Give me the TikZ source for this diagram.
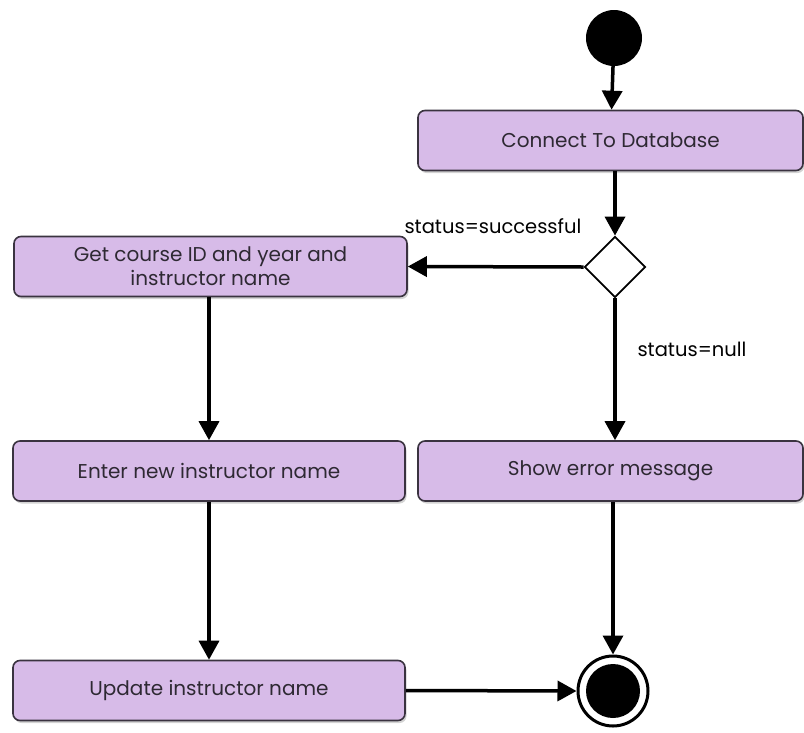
\documentclass[tikz,border=0pt]{standalone}
\usepackage{fontspec}
\setmainfont{Poppins}
\usetikzlibrary{arrows.meta,shapes.geometric,shadows}
\definecolor{actfill}{HTML}{D7BBE8}
\definecolor{actline}{HTML}{3A3340}
\begin{document}
\begin{tikzpicture}[x=1pt,y=-1pt,
  act/.style={draw=actline,line width=1.6pt,fill=actfill,rounded corners=7pt,
    minimum height=60pt,align=center,font=\fontsize{20}{24}\selectfont,text=actline!80!black,
    drop shadow={shadow xshift=1.5pt,shadow yshift=-2.5pt,opacity=0.35}},
  flow/.style={line width=3.5pt,-{Triangle[length=19pt,width=20pt]}},
  lbl/.style={font=\fontsize{19.5}{22}\selectfont,text=black}]
\useasboundingbox (0,0) rectangle (804,732);
\node[circle,fill=black,minimum size=56pt,inner sep=0pt] (start) at (614,38) {};
\node[act,minimum width=385pt] (conn) at (610.5,140.5) {Connect To Database};
\node[diamond,draw=black,line width=1.8pt,fill=white,minimum width=61pt,minimum height=61pt,inner sep=0pt] (dec) at (615,267) {};
\node[act,minimum width=393pt,inner sep=2pt] (get) at (210.5,266.5) {Get course ID and year and\\instructor name};
\node[act,minimum width=392pt] (enter) at (209,471) {Enter new instructor name};
\node[act,minimum width=385pt] (err) at (610.5,471) {Show error message};
\node[act,minimum width=392pt] (upd) at (209,690.5) {Update instructor name};
\node[circle,draw=black,line width=3pt,fill=white,minimum size=70pt,inner sep=0pt] (final) at (613,691) {};
\node[circle,fill=black,minimum size=54pt,inner sep=0pt] (finalin) at (613,691) {};
\draw[flow] (start) -- (conn);
\draw[flow] (conn.south -| dec) -- (dec.north);
\draw[flow] (dec.west) -- (get.east);
\draw[flow] (dec.south) -- (err.north -| dec);
\draw[flow] (get.south -| 209,0) -- (enter.north -| 209,0);
\draw[flow] (enter) -- (upd);
\draw[flow] (err.south -| final) -- (final.north);
\draw[flow] (upd.east) -- (final.west);
\node[lbl,anchor=base west] (s1) at (401,233) {status=successful};
\node[lbl,anchor=base west] (s2) at (634,356) {status=null};
\end{tikzpicture}
\end{document}
